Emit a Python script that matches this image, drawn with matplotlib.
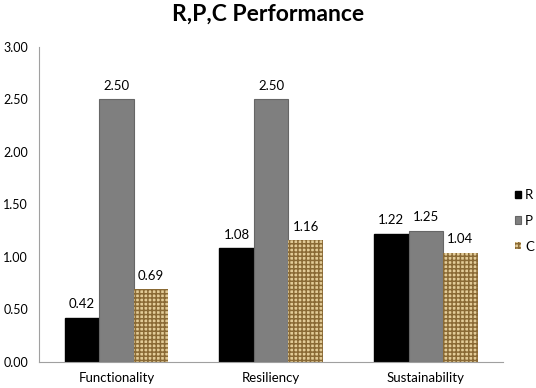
import matplotlib
matplotlib.use("Agg")
import matplotlib.pyplot as plt
import numpy as np

categories = ["Functionality", "Resiliency", "Sustainability"]
series_names = ["R", "P", "C"]
R = [0.42, 1.08, 1.22]
P = [2.50, 2.50, 1.25]
C = [0.69, 1.16, 1.04]
yticks = [0.0, 0.5, 1.0, 1.5, 2.0, 2.5, 3.0]

plt.rcParams['font.family'] = ['Lato', 'DejaVu Sans']
plt.rcParams['hatch.linewidth'] = 1.1

fig = plt.figure(figsize=(5.36, 3.88), dpi=100)
ax = fig.add_axes([0.0728, 0.067, 0.866, 0.813])

x = np.arange(len(categories))
w = 0.223
styles = [
    dict(color="black", edgecolor="black"),
    dict(color="#7f7f7f", edgecolor="#666666", linewidth=0.8),
    dict(facecolor="#e3cc98", edgecolor="#8a6a35", hatch="++++", linewidth=0),
]
for i, (vals, name, st) in enumerate(zip([R, P, C], series_names, styles)):
    bars = ax.bar(x + (i - 1) * w, vals, w, label=name, **st)
    for b, v in zip(bars, vals):
        ax.text(b.get_x() + b.get_width() / 2, v + 0.07, f"{v:.2f}",
                ha="center", va="bottom", fontsize=9.5)

ax.set_xlim(-0.5, 2.5)
ax.set_ylim(0, 3.0)
ax.set_yticks(yticks)
ax.set_yticklabels([f"{t:.2f}" for t in yticks], fontsize=9)
ax.set_xticks(x)
ax.set_xticklabels(categories, fontsize=9.5)
ax.tick_params(axis='both', length=0, pad=7)
ax.tick_params(axis='y', pad=8)
for s in ["top", "right"]:
    ax.spines[s].set_visible(False)
for s in ["left", "bottom"]:
    ax.spines[s].set_color("#a0a0a0")

fig.text(0.5, 0.964, "R,P,C Performance", ha="center", va="center",
         fontsize=16.5, fontweight="bold")

ax.legend(loc="center left", bbox_to_anchor=(1.026, 0.448), frameon=False,
          borderaxespad=0, borderpad=0, fontsize=9.5, handlelength=0.45,
          handleheight=0.45, handletextpad=0.3, labelspacing=1.05)

fig.savefig("out.png", dpi=100)
